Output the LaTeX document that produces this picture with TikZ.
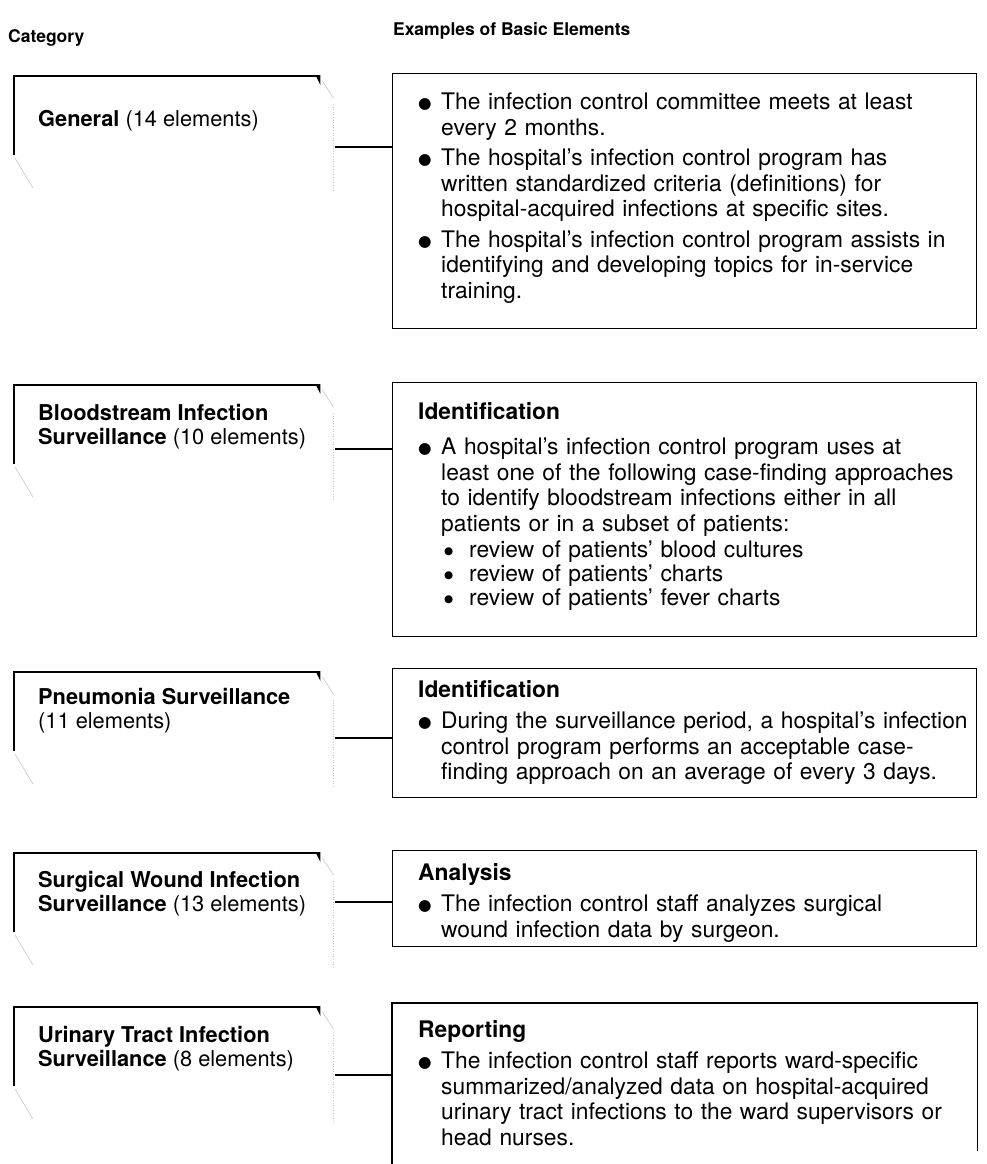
\documentclass[tikz,border=0pt]{standalone}
\usepackage{fontspec}
\setmainfont{TeX Gyre Heros}
\newfontfamily\symfont{DejaVu Sans}
\usetikzlibrary{positioning, calc}

% bullets and bullet paragraphs
\newcommand{\bigbul}{\raisebox{0.1ex}{\symfont\fontsize{15.5}{15.5}\selectfont ●}}
\newcommand{\smallbul}{\raisebox{0.25ex}{\symfont\fontsize{10.5}{10.5}\selectfont ●}}
\newcommand{\itempar}[1]{\par\noindent\hangindent=23pt\hangafter=1\makebox[23pt][l]{\bigbul}#1\par}
\newcommand{\subpar}[1]{{\fontsize{22.8}{24}\selectfont\par\noindent\hspace*{26pt}\makebox[25pt][l]{\smallbul}#1\par}}

% folder tab round a category
\newcommand{\drawtab}[1]{%
  \draw[boxline] ([shift={(-15,0)}]#1.north east) -- (#1.north west) -- ([shift={(0,79)}]#1.north west);
  \fill ([shift={(-18,-1)}]#1.north east) -- ([shift={(-13,-1)}]#1.north east) -- ([shift={(-13,9)}]#1.north east) -- cycle;
  \draw[faint] ([shift={(-11,5)}]#1.north east) -- ([shift={(0,22)}]#1.north east);
  \draw[faint, dotted] ([shift={(0,28)}]#1.north east) -- (#1.south east);
  \draw[faint] ([shift={(1,82)}]#1.north west) -- ([shift={(19,112)}]#1.north west);
}

\begin{document}
\begin{tikzpicture}[x=1pt, y=-1pt,
    boxline/.style={line width=1.3pt},
    exbox/.style={draw, boxline, minimum width=584pt, anchor=north west, inner sep=0pt},
    catbox/.style={minimum width=319pt, minimum height=115pt, anchor=north west, inner sep=0pt},
    extext/.style={anchor=north west, inner sep=0pt, text width=560pt, align=left, font=\fontsize{22.8}{25.5}\selectfont},
    cattext/.style={anchor=north west, inner sep=0pt, align=left, font=\fontsize{21.8}{24.5}\selectfont},
    head/.style={anchor=north west, inner sep=0pt, font=\bfseries\fontsize{17.5}{20}\selectfont},
    link/.style={line width=2pt},
    faint/.style={gray!45, line width=0.6pt}]

  \useasboundingbox (0,0) rectangle (986,1164);

  % Headings
  \node[head] (hcat) at (8,29) {Category};
  \node[head] (hex) at (393,22) {Examples of Basic Elements};

  % Categories
  \node[catbox] (cat1) at (14,76) {};
  \node[catbox] (cat2) at (14,385) {};
  \node[catbox] (cat3) at (14,672) {};
  \node[catbox] (cat4) at (14,853) {};
  \node[catbox] (cat5) at (14,1007) {};
  \drawtab{cat1}
  \drawtab{cat2}
  \drawtab{cat3}
  \drawtab{cat4}
  \drawtab{cat5}

  \node[cattext] (lab1) at ([shift={(24,34)}]cat1.north west) {\textbf{General} (14 elements)};
  \node[cattext] (lab2) at ([shift={(24,19)}]cat2.north west) {\textbf{Bloodstream Infection}\\\textbf{Surveillance} (10 elements)};
  \node[cattext] (lab3) at ([shift={(24,16)}]cat3.north west) {\textbf{Pneumonia Surveillance}\\(11 elements)};
  \node[cattext] (lab4) at ([shift={(24,18)}]cat4.north west) {\textbf{Surgical Wound Infection}\\\textbf{Surveillance} (13 elements)};
  \node[cattext] (lab5) at ([shift={(24,19)}]cat5.north west) {\textbf{Urinary Tract Infection}\\\textbf{Surveillance} (8 elements)};

  % Example boxes
  \node[exbox, minimum height=255pt] (ex1) at (392,73) {};
  \node[exbox, minimum height=254pt] (ex2) at (392,382) {};
  \node[exbox, minimum height=129pt] (ex3) at (392,668) {};
  \node[exbox, minimum height=96pt] (ex4) at (392,850) {};
  \node[exbox, draw=none, minimum height=161pt] (ex5) at (392,1003) {};
  \draw[boxline] (ex5.south west) -- (ex5.north west) -- (ex5.north east) -- ([shift={(0,-14)}]ex5.south east);

  \node[extext] (ex1t) at ([shift={(26,11)}]ex1.north west) {%
    \itempar{The infection control committee meets at least\newline every 2 months.}
    \vspace{5pt}
    \itempar{The hospital's infection control program has\newline written standardized criteria (definitions) for\newline hospital-acquired infections at specific sites.}
    \vspace{5pt}
    \itempar{The hospital's infection control program assists in\newline identifying and developing topics for in-service\newline training.}};
  \node[extext] (ex2t) at ([shift={(26,20)}]ex2.north west) {%
    \textbf{Identification}\par\vspace{10pt}
    \itempar{A hospital's infection control program uses at\newline least one of the following case-finding approaches\newline to identify bloodstream infections either in all\newline patients or in a subset of patients:}
    \vspace{2pt}
    \subpar{review of patients' blood cultures}
    \subpar{review of patients' charts}
    \subpar{review of patients' fever charts}};
  \node[extext] (ex3t) at ([shift={(26,12)}]ex3.north west) {%
    \textbf{Identification}\par\vspace{6pt}
    \itempar{During the surveillance period, a hospital's infection\newline control program performs an acceptable case-\newline finding approach on an average of every 3 days.}};
  \node[extext] (ex4t) at ([shift={(26,13)}]ex4.north west) {%
    \textbf{Analysis}\par\vspace{6pt}
    \itempar{The infection control staff analyzes surgical\newline wound infection data by surgeon.}};
  \node[extext] (ex5t) at ([shift={(26,17)}]ex5.north west) {%
    \textbf{Reporting}\par\vspace{6pt}
    \itempar{The infection control staff reports ward-specific\newline summarized/analyzed data on hospital-acquired\newline urinary tract infections to the ward supervisors or\newline head nurses.}};

  % Connectors
  \coordinate (j1) at (335,147);
  \coordinate (j2) at (335,449);
  \coordinate (j3) at (335,738);
  \coordinate (j4) at (335,902);
  \coordinate (j5) at (335,1075);
  \draw[link] (j1) -- (ex1.west |- j1);
  \draw[link] (j2) -- (ex2.west |- j2);
  \draw[link] (j3) -- (ex3.west |- j3);
  \draw[link] (j4) -- (ex4.west |- j4);
  \draw[link] (j5) -- (ex5.west |- j5);

\end{tikzpicture}
\end{document}
